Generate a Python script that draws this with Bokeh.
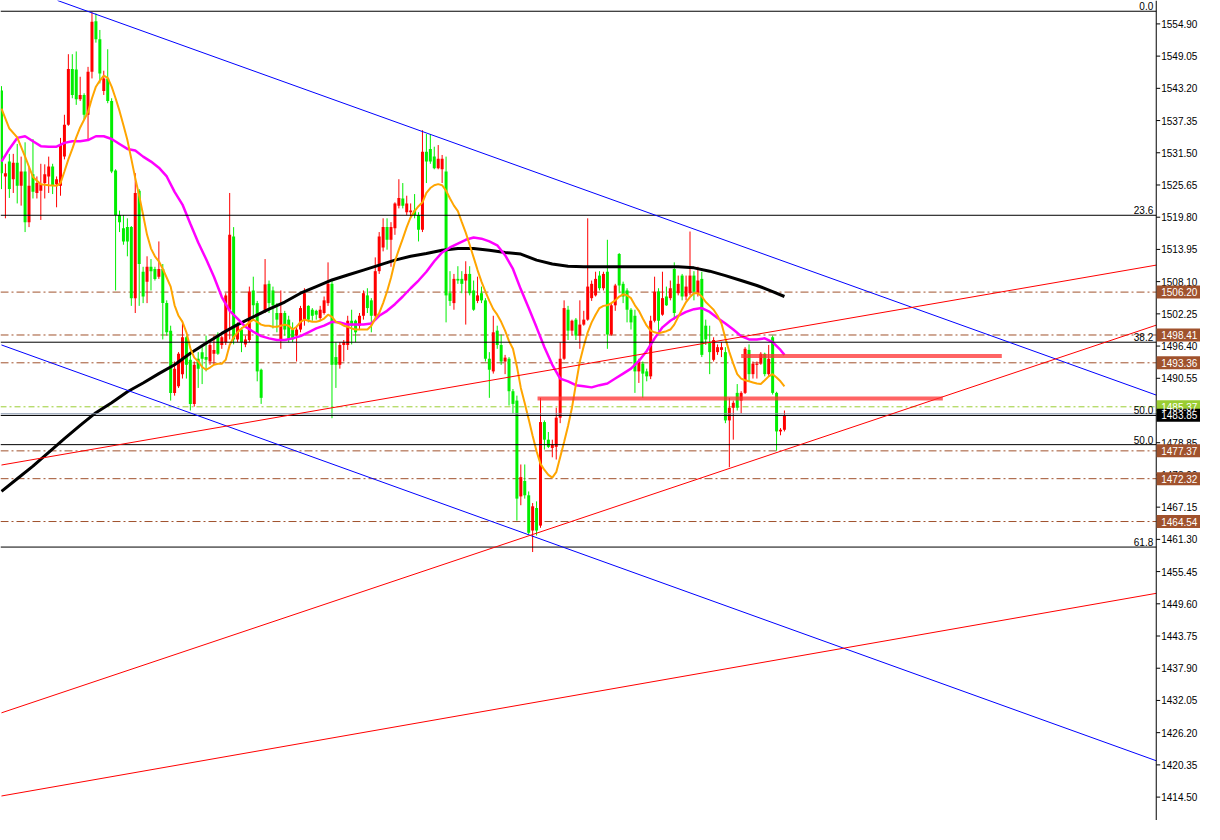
from bokeh.plotting import figure
from bokeh.models import Range1d, ColumnDataSource
from bokeh.core.properties import value
from bokeh.embed import file_html
from bokeh.resources import INLINE

# ---------------- candle data ----------------
opens = [
    1542.8, 1527.2, 1529.9, 1526.7, 1529.7, 1525.5, 1528.1, 1518.9, 1527.6, 1524.2,
    1524.6, 1526.0, 1527.2, 1529.0, 1525.8, 1525.5, 1530.8, 1536.6, 1546.7, 1546.6,
    1541.2, 1542.0, 1538.4, 1546.2, 1555.4, 1552.1, 1542.7, 1545.0, 1540.9, 1528.3,
    1520.2, 1517.8, 1518.0, 1518.0, 1505.1, 1524.6, 1509.9, 1508.1, 1510.8, 1510.4,
    1509.0, 1510.4, 1504.2, 1499.2, 1487.9, 1489.1, 1491.3, 1498.0, 1493.9, 1485.9,
    1494.1, 1495.3, 1494.4, 1493.6, 1495.0, 1498.5, 1496.6, 1497.1, 1503.0, 1516.3,
    1497.6, 1499.4, 1496.7, 1497.5, 1506.5, 1504.2, 1492.1, 1502.8, 1507.7, 1506.5,
    1502.4, 1497.6, 1502.4, 1501.2, 1499.4, 1498.3, 1499.4, 1501.2, 1503.7, 1503.0,
    1502.8, 1501.5, 1502.4, 1504.2, 1507.7, 1494.4, 1493.0, 1496.6, 1496.6, 1501.0,
    1501.0, 1500.1, 1501.9, 1505.6, 1504.7, 1501.9, 1510.0, 1514.3, 1518.0, 1515.7,
    1517.8, 1521.9, 1523.2, 1520.7, 1520.7, 1521.0, 1520.2, 1517.5, 1531.7, 1532.2,
    1530.8, 1528.7, 1528.5, 1528.1, 1506.0, 1504.2, 1508.6, 1508.6, 1508.3, 1509.5,
    1506.5, 1504.6, 1506.0, 1504.7, 1494.1, 1491.8, 1499.2, 1496.6, 1493.6, 1494.1,
    1488.2, 1486.5, 1469.1, 1471.9, 1469.3, 1462.9, 1467.0, 1463.8, 1482.6, 1479.4,
    1477.9, 1478.1, 1483.4, 1494.1, 1503.0, 1499.2, 1501.2, 1498.3, 1500.3, 1501.2,
    1505.1, 1505.6, 1509.2, 1506.9, 1509.9, 1498.5, 1503.8, 1513.1, 1507.7, 1506.5,
    1503.0, 1501.9, 1491.8, 1493.2, 1491.8, 1490.9, 1501.0, 1506.3, 1502.1, 1505.4,
    1505.1, 1510.4, 1506.0, 1509.2, 1505.4, 1506.0, 1509.2, 1506.0, 1508.6, 1500.1,
    1497.1, 1493.9, 1495.3, 1495.7, 1495.3, 1482.9, 1485.2, 1487.9, 1486.5, 1487.9,
    1495.7, 1491.3, 1493.0, 1493.2, 1495.0, 1491.3, 1498.0, 1487.9, 1480.9, 1481.2,
]
highs = [
    1543.6, 1529.5, 1531.3, 1531.3, 1533.1, 1530.8, 1533.4, 1529.0, 1534.0, 1527.2,
    1529.5, 1529.4, 1530.8, 1529.5, 1527.2, 1534.2, 1538.4, 1549.4, 1549.4, 1549.9,
    1545.3, 1542.3, 1547.1, 1557.0, 1556.8, 1553.8, 1546.4, 1550.3, 1541.4, 1528.5,
    1521.0, 1520.2, 1519.6, 1518.2, 1527.8, 1524.9, 1510.8, 1512.7, 1512.2, 1510.8,
    1515.4, 1511.3, 1504.7, 1500.1, 1493.6, 1495.3, 1501.0, 1498.3, 1495.3, 1493.6,
    1495.3, 1496.6, 1498.3, 1497.1, 1498.3, 1498.9, 1498.3, 1506.0, 1524.2, 1518.0,
    1500.7, 1499.8, 1498.3, 1507.2, 1509.0, 1504.6, 1492.3, 1512.2, 1508.3, 1507.2,
    1504.2, 1506.5, 1502.8, 1501.9, 1500.7, 1500.1, 1503.7, 1506.9, 1503.8, 1503.3,
    1503.0, 1503.7, 1505.4, 1511.6, 1508.3, 1497.1, 1497.1, 1497.5, 1501.9, 1503.0,
    1501.2, 1502.4, 1506.5, 1506.9, 1505.1, 1512.5, 1517.1, 1519.6, 1519.6, 1518.9,
    1522.5, 1526.7, 1526.0, 1523.7, 1522.3, 1524.0, 1520.7, 1535.6, 1534.9, 1534.9,
    1532.6, 1532.9, 1531.1, 1530.8, 1510.0, 1509.5, 1510.9, 1510.0, 1511.8, 1510.9,
    1508.3, 1509.0, 1507.2, 1505.1, 1495.3, 1501.9, 1500.1, 1498.5, 1494.8, 1494.4,
    1488.6, 1487.4, 1474.9, 1474.9, 1470.0, 1467.9, 1468.2, 1487.0, 1482.9, 1480.8,
    1479.4, 1485.2, 1497.1, 1504.7, 1503.7, 1501.2, 1501.5, 1504.7, 1502.8, 1519.6,
    1508.3, 1509.9, 1510.0, 1509.9, 1515.7, 1504.2, 1507.7, 1513.3, 1508.1, 1506.9,
    1503.3, 1503.0, 1494.1, 1493.6, 1492.3, 1501.9, 1509.0, 1506.9, 1509.9, 1507.2,
    1508.3, 1511.6, 1509.2, 1509.5, 1509.2, 1517.2, 1510.0, 1510.8, 1509.9, 1501.2,
    1500.1, 1498.0, 1496.7, 1497.1, 1496.2, 1487.0, 1486.5, 1489.5, 1488.2, 1496.2,
    1496.7, 1493.6, 1493.6, 1495.3, 1495.2, 1496.6, 1498.3, 1488.1, 1481.5, 1484.7,
]
lows = [
    1524.9, 1519.6, 1523.3, 1524.2, 1522.3, 1521.9, 1517.1, 1518.0, 1523.2, 1523.2,
    1519.3, 1523.2, 1524.2, 1524.0, 1521.6, 1523.7, 1530.3, 1536.4, 1541.4, 1540.2,
    1540.9, 1537.5, 1534.0, 1545.0, 1551.5, 1544.1, 1542.0, 1540.5, 1527.8, 1506.5,
    1517.1, 1514.8, 1512.7, 1503.7, 1502.4, 1503.7, 1504.2, 1504.2, 1506.5, 1508.3,
    1508.6, 1497.6, 1498.3, 1486.5, 1487.4, 1488.8, 1490.5, 1490.5, 1484.7, 1485.4,
    1488.8, 1489.5, 1491.8, 1493.0, 1493.0, 1494.8, 1495.9, 1496.6, 1497.6, 1496.7,
    1497.1, 1495.3, 1496.2, 1497.1, 1501.2, 1490.0, 1485.9, 1502.4, 1502.4, 1499.6,
    1498.9, 1495.9, 1498.3, 1497.1, 1497.1, 1493.6, 1498.9, 1500.1, 1500.7, 1501.0,
    1501.2, 1501.0, 1502.1, 1503.7, 1483.3, 1488.8, 1492.3, 1493.6, 1495.7, 1496.7,
    1497.1, 1499.4, 1501.2, 1502.4, 1498.9, 1501.2, 1509.5, 1513.6, 1513.9, 1510.8,
    1516.6, 1521.4, 1521.4, 1520.2, 1519.6, 1519.6, 1515.4, 1517.1, 1526.0, 1529.5,
    1528.5, 1528.5, 1526.0, 1500.7, 1503.7, 1503.0, 1507.7, 1506.0, 1500.3, 1505.6,
    1502.8, 1504.2, 1504.2, 1493.6, 1487.0, 1491.4, 1495.9, 1493.0, 1491.3, 1485.6,
    1484.2, 1464.7, 1467.5, 1468.7, 1462.2, 1459.0, 1462.0, 1463.4, 1477.6, 1477.9,
    1476.2, 1475.8, 1482.4, 1493.9, 1497.5, 1498.3, 1497.5, 1495.9, 1500.1, 1501.0,
    1504.6, 1505.4, 1506.5, 1506.5, 1495.9, 1498.3, 1502.8, 1506.0, 1504.2, 1500.7,
    1499.4, 1487.9, 1489.7, 1487.0, 1490.0, 1490.4, 1500.7, 1499.2, 1501.9, 1503.7,
    1504.7, 1501.2, 1505.6, 1504.7, 1504.7, 1505.6, 1504.7, 1505.4, 1494.4, 1496.6,
    1491.3, 1493.6, 1494.8, 1494.4, 1482.4, 1474.4, 1479.4, 1484.7, 1484.2, 1487.7,
    1490.0, 1490.5, 1490.5, 1493.0, 1490.9, 1490.9, 1487.6, 1477.4, 1480.2, 1480.9,
]
closes = [
    1527.8, 1527.8, 1524.9, 1529.7, 1525.5, 1528.1, 1518.9, 1525.5, 1524.4, 1526.0,
    1525.8, 1527.6, 1529.0, 1525.5, 1526.7, 1533.1, 1536.6, 1546.7, 1542.0, 1541.2,
    1542.0, 1538.4, 1546.2, 1555.3, 1552.1, 1545.9, 1545.0, 1540.9, 1528.1, 1520.2,
    1518.9, 1515.4, 1515.4, 1505.1, 1524.2, 1511.3, 1505.4, 1510.8, 1510.0, 1508.6,
    1510.4, 1504.2, 1498.9, 1487.9, 1492.3, 1495.0, 1498.0, 1493.0, 1485.9, 1493.0,
    1492.3, 1494.1, 1493.9, 1496.6, 1495.7, 1495.0, 1498.0, 1505.6, 1516.6, 1497.6,
    1500.3, 1497.1, 1497.6, 1506.3, 1503.8, 1491.8, 1487.0, 1507.6, 1504.2, 1503.8,
    1501.2, 1502.4, 1499.4, 1497.6, 1497.6, 1499.4, 1503.3, 1506.0, 1501.2, 1501.9,
    1502.1, 1503.0, 1504.7, 1507.7, 1493.0, 1493.0, 1496.6, 1497.1, 1501.0, 1500.1,
    1498.9, 1501.9, 1506.0, 1503.3, 1501.9, 1510.0, 1516.3, 1518.0, 1515.7, 1518.0,
    1522.3, 1523.3, 1521.9, 1522.3, 1521.0, 1520.2, 1517.5, 1531.7, 1529.9, 1529.9,
    1528.7, 1530.4, 1530.4, 1505.6, 1504.6, 1508.6, 1508.3, 1507.7, 1509.5, 1506.0,
    1503.0, 1505.6, 1504.7, 1494.1, 1492.1, 1498.9, 1496.6, 1493.6, 1494.3, 1488.2,
    1485.9, 1468.7, 1472.6, 1469.3, 1462.5, 1467.3, 1462.9, 1482.6, 1479.4, 1478.1,
    1478.5, 1483.4, 1494.1, 1503.3, 1499.2, 1501.0, 1498.3, 1500.3, 1501.2, 1507.2,
    1507.7, 1508.6, 1506.9, 1509.5, 1498.5, 1503.8, 1507.4, 1507.4, 1505.4, 1503.0,
    1500.7, 1491.8, 1493.6, 1491.4, 1490.9, 1501.0, 1506.3, 1501.0, 1505.1, 1503.8,
    1506.9, 1502.4, 1507.7, 1505.4, 1507.2, 1509.2, 1506.3, 1508.3, 1494.8, 1497.6,
    1495.3, 1497.5, 1496.2, 1496.2, 1482.9, 1485.2, 1486.1, 1485.2, 1487.9, 1495.9,
    1491.3, 1493.2, 1493.2, 1495.0, 1491.3, 1494.1, 1487.9, 1480.9, 1481.2, 1483.8,
]

# ---------------- moving averages ----------------
orange_x = [0, 2, 4, 6, 8, 10, 12, 14] + list(range(15, 200))
orange_ma = [
    1539.5, 1535.9, 1534.3, 1530.8, 1527.1, 1525.8, 1525.6, 1525.5,
    1526.0, 1528.1, 1530.3, 1532.2, 1534.3, 1536.1, 1537.5, 1538.9, 1541.4, 1543.5,
    1544.6, 1545.5, 1545.1, 1543.5, 1541.4, 1539.1, 1536.5, 1533.8, 1530.4, 1526.9,
    1523.7, 1520.2, 1516.6, 1514.1, 1512.7, 1511.8, 1510.4, 1508.8, 1507.2, 1503.8,
    1501.9, 1500.8, 1498.9, 1496.0, 1494.3, 1493.6, 1492.6, 1492.1, 1492.5, 1493.0,
    1493.2, 1493.2, 1493.9, 1496.6, 1498.0, 1498.9, 1499.6, 1500.1, 1500.7, 1501.2,
    1500.8, 1500.3, 1500.1, 1500.1, 1499.9, 1499.9, 1500.1, 1500.3, 1500.1, 1499.4,
    1499.9, 1500.8, 1501.2, 1501.0, 1500.8, 1500.8, 1501.0, 1501.4, 1502.1, 1501.7,
    1500.8, 1500.5, 1500.1, 1499.9, 1499.6, 1499.4, 1499.4, 1499.4, 1499.4, 1500.1,
    1501.4, 1502.4, 1504.2, 1506.3, 1508.8, 1511.8, 1513.9, 1515.9, 1518.0, 1519.8,
    1520.9, 1521.8, 1522.5, 1524.2, 1525.1, 1525.6, 1525.8, 1525.6, 1524.6, 1523.2,
    1521.9, 1520.9, 1518.9, 1517.0, 1514.8, 1512.5, 1510.2, 1508.1, 1506.3, 1504.6,
    1503.1, 1502.1, 1500.8, 1499.2, 1497.3, 1495.9, 1492.7, 1488.8, 1486.0, 1483.1,
    1480.1, 1477.3, 1475.0, 1473.9, 1473.0, 1472.5, 1473.5, 1476.2, 1479.0, 1481.9,
    1485.2, 1489.5, 1493.6, 1496.4, 1498.9, 1500.7, 1502.1, 1503.3, 1503.7, 1503.8,
    1504.2, 1504.7, 1505.4, 1505.8, 1505.6, 1505.1, 1503.8, 1502.8, 1501.4, 1500.1,
    1499.2, 1498.9, 1498.7, 1498.9, 1499.1, 1499.4, 1500.3, 1501.7, 1503.1, 1504.4,
    1505.3, 1506.0, 1506.0, 1505.4, 1504.4, 1503.7, 1503.0, 1501.9, 1500.5, 1497.8,
    1495.3, 1493.2, 1491.3, 1490.5, 1490.2, 1490.0, 1489.8, 1489.6, 1489.5, 1490.2,
    1490.9, 1491.3, 1490.7, 1490.0, 1489.1,
]
magenta_x = list(range(0, 200, 2)) + [199]
magenta_ma = [
    1529.9, 1532.2, 1534.2, 1534.5, 1533.6, 1532.7, 1532.6, 1532.6, 1533.3, 1533.6,
    1533.6, 1533.8, 1534.5, 1534.5, 1534.0, 1533.1, 1532.2, 1531.9, 1530.8, 1529.9,
    1528.8, 1527.2, 1524.4, 1522.1, 1518.6, 1515.2, 1512.2, 1509.0, 1505.3, 1502.8,
    1501.4, 1499.9, 1499.0, 1498.2, 1497.8, 1497.5, 1497.5, 1497.8, 1498.2, 1498.9,
    1499.6, 1500.1, 1500.8, 1500.7, 1500.3, 1500.3, 1500.3, 1500.5, 1501.9, 1502.8,
    1504.0, 1505.4, 1506.9, 1508.3, 1509.9, 1511.8, 1513.4, 1514.3, 1515.0, 1515.7,
    1516.1, 1515.9, 1515.4, 1514.7, 1512.9, 1510.4, 1506.7, 1503.3, 1499.8, 1496.2,
    1493.0, 1490.5, 1490.0, 1489.3, 1489.1, 1488.9, 1489.3, 1489.6, 1490.5, 1491.4,
    1492.3, 1493.7, 1495.5, 1497.8, 1499.8, 1501.0, 1501.9, 1502.6, 1503.1, 1503.3,
    1502.6, 1501.5, 1500.5, 1499.4, 1498.2, 1497.6, 1497.6, 1497.8, 1497.1, 1495.7,
    1494.8,
]
black_x = list(range(0, 200, 4)) + [199]
black_ma = [
    1470.0, 1472.3, 1474.6, 1477.1, 1479.6, 1482.0, 1484.3, 1486.1, 1488.1, 1489.7,
    1491.4, 1493.0, 1495.1, 1496.9, 1498.7, 1500.3, 1501.7, 1503.1, 1504.4, 1506.0,
    1507.2, 1508.4, 1509.3, 1510.2, 1511.1, 1512.0, 1512.7, 1513.2, 1513.8, 1514.1,
    1514.1, 1513.8, 1513.4, 1513.1, 1512.0, 1511.3, 1510.9, 1510.8, 1510.8, 1510.8,
    1510.8, 1510.8, 1510.8, 1510.8, 1510.6, 1510.0, 1509.2, 1508.3, 1507.4, 1506.3,
    1505.4,
]

# ---------------- drawn objects ----------------
trend_x0 = [14.25, 0.0, 0.0, 0.0, 0.0]
trend_p0 = [1559.15, 1496.6, 1474.8, 1429.8, 1414.7]
trend_x1 = [293.5, 293.5, 293.5, 293.5, 293.5]
trend_p1 = [1487.5, 1421.1, 1511.1, 1500.2, 1451.5]
trend_kind = ["channel", "channel", "support", "support", "support"]

zone_x0 = [136.25, 188.0]
zone_x1 = [239.25, 254.25]
zone_p = [1486.9, 1494.6]

fib_levels = [1557.2, 1520.15, 1497.1, 1483.8, 1478.5, 1459.9]
fib_labels = ["0.0", "23.6", "38.2", "50.0", "50.0", "61.8"]

level_prices = [1506.20, 1498.41, 1493.36, 1477.37, 1472.32, 1464.54]
signal_price = 1485.37
bid_price = 1483.85

tick_values = [1554.90, 1549.05, 1543.20, 1537.35, 1531.50, 1525.65, 1519.80, 1513.95,
               1508.10, 1502.25, 1496.40, 1490.55, 1484.70, 1478.85, 1473.00, 1467.15,
               1461.30, 1455.45, 1449.60, 1443.75, 1437.90, 1432.05, 1426.20, 1420.35,
               1414.50]

# ---------------- figure ----------------
W, H = 1200, 820
X0, X_END = -0.25, 304.75      # whole page width, in candle slots
AX = 293.5                     # price-scale line position
Y0, Y1 = 1410.25, 1559.15
FONT = value("Liberation Sans")
PX_PER_PRICE = H / (Y1 - Y0)

p = figure(width=W, height=H, x_range=Range1d(X0, X_END), y_range=Range1d(Y0, Y1),
           x_axis_location=None, y_axis_location=None, toolbar_location=None,
           output_backend="svg", background_fill_color="white", border_fill_color="white",
           min_border_left=0, min_border_right=0, min_border_top=0, min_border_bottom=0)
p.outline_line_color = None
p.grid.visible = False

# horizontal levels (drawn up to the price scale)
n_lv = len(level_prices)
p.segment(x0=[X0] * n_lv, x1=[AX] * n_lv, y0=level_prices, y1=level_prices,
          line_color="#a0522d", line_width=1, line_dash="8 3 2 3")
p.segment(x0=[X0], x1=[AX], y0=[signal_price], y1=[signal_price],
          line_color="#9acd32", line_width=1, line_dash="6 3 2 3")

UP = "#ff0000"
DOWN = "#00ee00"
idx = list(range(len(opens)))
colors = [UP if c >= o else DOWN for o, c in zip(opens, closes)]
tops = [max(o, c) for o, c in zip(opens, closes)]
bots = [min(o, c) if abs(o - c) > 0.15 else max(o, c) - 0.15 for o, c in zip(opens, closes)]
src = ColumnDataSource(dict(x=idx, h=highs, l=lows, top=tops, bot=bots, color=colors))
p.segment(x0="x", y0="h", x1="x", y1="l", line_color="color", line_width=1, source=src)
p.vbar(x="x", width=0.76, top="top", bottom="bot", fill_color="color", line_color=None, source=src)

# moving averages
p.line(black_x, black_ma, line_color="black", line_width=3)
p.line(magenta_x, magenta_ma, line_color="#ff00ff", line_width=2.5)
p.line(orange_x, orange_ma, line_color="#ffa500", line_width=2)

# bid line and fibonacci levels
p.segment(x0=[X0], x1=[AX], y0=[bid_price + 0.25], y1=[bid_price + 0.25],
          line_color="#8090a8", line_width=1)
n_f = len(fib_levels)
p.segment(x0=[X0] * n_f, x1=[AX] * n_f, y0=fib_levels, y1=fib_levels,
          line_color="black", line_width=1)
p.text(x=[AX] * n_f, y=fib_levels, text=fib_labels, x_offset=-3, y_offset=-1,
       text_align="right", text_baseline="bottom", text_font=FONT,
       text_font_size="10px", text_color="black")

# trend lines
tcol = {"channel": "#0000ff", "support": "#ff0000"}
for a, b, c, d, k in zip(trend_x0, trend_p0, trend_x1, trend_p1, trend_kind):
    p.line([a, c], [b, d], line_color=tcol[k], line_width=1)

# red zones
for a, b, c in zip(zone_x0, zone_x1, zone_p):
    p.line([a, b], [c, c], line_color="#ff3030", line_alpha=0.75, line_width=4)

# ---- price scale on the right ----
p.segment(x0=[AX], x1=[AX], y0=[Y0], y1=[Y1], line_color="black", line_width=1)
n_t = len(tick_values)
p.segment(x0=[AX] * n_t, x1=[AX + 1.0] * n_t, y0=tick_values, y1=tick_values,
          line_color="black", line_width=1)
p.text(x=[AX] * n_t, y=tick_values, text=["%.2f" % t for t in tick_values], x_offset=5,
       text_align="left", text_baseline="middle", text_font=FONT,
       text_font_size="10px", text_color="black")

# price labels on the scale
lab_prices = level_prices + [signal_price, bid_price]
lab_colors = ["#a0522d"] * n_lv + ["#9acd32", "black"]
half_h = 6.5 / PX_PER_PRICE
p.quad(left=[AX + 0.1] * len(lab_prices), right=[X_END] * len(lab_prices),
       top=[v + half_h for v in lab_prices], bottom=[v - half_h for v in lab_prices],
       fill_color=lab_colors, line_color=None)
p.text(x=[AX] * len(lab_prices), y=lab_prices, text=["%.2f" % v for v in lab_prices], x_offset=5,
       text_align="left", text_baseline="middle", text_font=FONT,
       text_font_size="10px", text_color="white")

open("out.html", "w").write(file_html(p, INLINE))
